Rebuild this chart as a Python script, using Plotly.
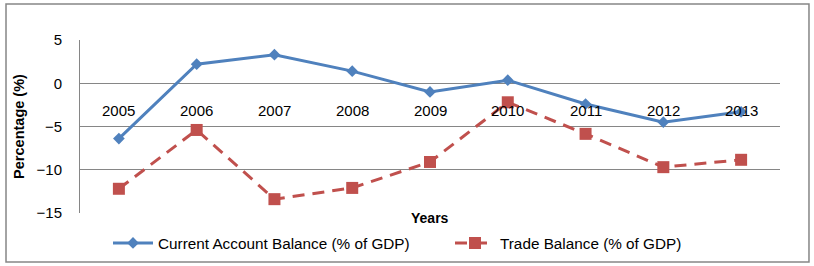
import plotly.graph_objects as go

years = ["2005", "2006", "2007", "2008", "2009", "2010", "2011", "2012", "2013"]
current_account = [-6.4, 2.2, 3.3, 1.4, -1.0, 0.35, -2.4, -4.5, -3.3]
trade_balance = [-12.2, -5.4, -13.4, -12.1, -9.1, -2.2, -5.85, -9.7, -8.85]
y_ticks = [5, 0, -5, -10, -15]

FONT = "Liberation Sans"
BLUE = "#4F81BD"
RED = "#C0504D"
GRID = "#868686"

fig = go.Figure()
fig.add_trace(go.Scatter(
    x=years, y=current_account, name="Current Account Balance (% of GDP)",
    mode="lines+markers",
    line=dict(color=BLUE, width=3),
    marker=dict(symbol="diamond", size=9, color=BLUE),
))
fig.add_trace(go.Scatter(
    x=years, y=trade_balance, name="Trade Balance (% of GDP)",
    mode="lines+markers",
    line=dict(color=RED, width=3, dash="12px,8px"),
    marker=dict(symbol="square", size=12, color=RED),
))

for i, yr in enumerate(years):
    fig.add_annotation(x=i, y=0, xref="x", yref="y", text=yr, showarrow=False,
                       yshift=-27, font=dict(family=FONT, size=15, color="#000000"))

fig.add_annotation(x=0.5, y=0, xref="paper", yref="paper", text="<b>Years</b>",
                   showarrow=False, yshift=-15, font=dict(family=FONT, size=14, color="#000000"))

fig.add_shape(type="rect", xref="paper", yref="paper",
              x0=-0.1057, x1=1.0414, y0=-0.2832, y1=1.2081,
              line=dict(color=GRID, width=1.5), fillcolor="rgba(0,0,0,0)", layer="below")

fig.update_layout(
    width=814, height=266,
    margin=dict(l=80, r=34, t=40, b=53, autoexpand=False),
    paper_bgcolor="white", plot_bgcolor="white",
    font=dict(family=FONT, size=15, color="#000000"),
    showlegend=True,
    legend=dict(orientation="h", x=108 / 814, xanchor="left", xref="container",
                y=23 / 266, yanchor="middle", yref="container",
                font=dict(family=FONT, size=15.3), itemwidth=40,
                entrywidth=287, entrywidthmode="pixels",
                bgcolor="rgba(0,0,0,0)"),
    xaxis=dict(type="category", range=[-0.5, 8.5], showticklabels=False, showgrid=False,
               zeroline=False, showline=False, ticks="", automargin=False),
    yaxis=dict(range=[-15, 5], tickvals=y_ticks, showgrid=True, gridcolor=GRID, gridwidth=1,
               zeroline=True, zerolinecolor=GRID, zerolinewidth=1,
               showline=True, linecolor=GRID, linewidth=1, ticks="", automargin=False,
               ticklabelstandoff=14,
               tickfont=dict(family=FONT, size=15),
               title=dict(text="<b>Percentage (%)</b>", font=dict(family=FONT, size=14.5), standoff=8)),
)

fig.write_html("out.html", config={"displayModeBar": False},
               post_script="document.body.style.margin='0px';")
